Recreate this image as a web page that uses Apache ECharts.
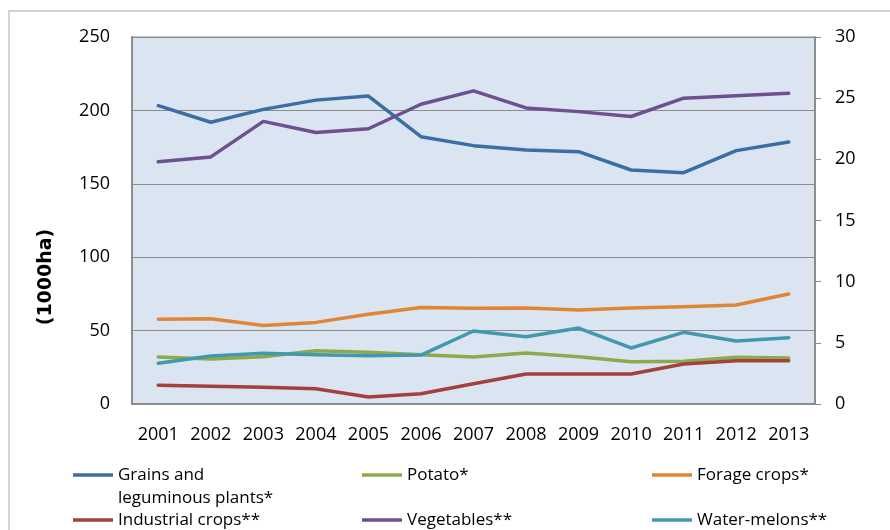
<!DOCTYPE html>
<html>
<head>
<meta charset="utf-8">
<script src="https://cdn.jsdelivr.net/npm/echarts@6/dist/echarts.min.js"></script>
<style>html,body{margin:0;padding:0;background:#fff}#c{width:890px;height:530px}</style>
</head>
<body>
<div id="c"></div>
<script>
const years = ['2001','2002','2003','2004','2005','2006','2007','2008','2009','2010','2011','2012','2013'];
// left axis (1000 ha)
const grains   = [203.2,191.9,200.7,207.0,209.8,182.1,176.0,173.0,171.9,159.4,157.6,172.6,178.5];
const potato   = [32.0,30.7,32.2,36.3,35.2,33.6,32.0,34.7,32.2,28.8,29.1,31.8,31.3];
const forage   = [57.7,58.1,53.4,55.6,61.1,65.8,65.2,65.4,64.0,65.4,66.3,67.4,74.9];
// right axis (1000 ha)
const industrial = [1.53,1.45,1.36,1.25,0.57,0.84,1.66,2.45,2.45,2.45,3.27,3.54,3.54];
const vegetables = [19.8,20.2,23.1,22.2,22.5,24.5,25.6,24.2,23.9,23.5,25.0,25.2,25.4];
const melons     = [3.33,3.92,4.14,4.03,3.95,4.00,5.97,5.50,6.21,4.58,5.86,5.15,5.42];
const leftTicks = {min:0, max:250, interval:50};
const rightTicks = {min:0, max:30, interval:5};

const chart = echarts.init(document.getElementById('c'), null, {renderer:'canvas'});
const font = 'Open Sans';
const axisGray = '#8c8c8c';
function line(name, data, color, yAxisIndex){
  return {name, type:'line', data, yAxisIndex, symbol:'none', smooth:false,
    lineStyle:{color, width:3.5, cap:'round', join:'round'}, itemStyle:{color}, z: 3};
}
const legendBase = {orient:'vertical', icon:'rect', itemWidth:40, itemHeight:3.5, itemGap:25, padding:0,
  textStyle:{fontFamily:font, fontSize:17, color:'#000', lineHeight:20}, selectedMode:false};
chart.setOption({
  animation:false,
  backgroundColor:'#fff',
  grid:{left:132, right:75, top:37, bottom:126, show:true, backgroundColor:'#dbe5f1', borderColor:axisGray, borderWidth:1},
  xAxis:{type:'category', data:years, boundaryGap:true,
    axisLine:{show:true, lineStyle:{color:axisGray, width:2}}, axisTick:{show:false},
    axisLabel:{fontFamily:font, fontSize:18, color:'#000', margin:22, interval:0}},
  yAxis:[
    {type:'value', min:leftTicks.min, max:leftTicks.max, interval:leftTicks.interval, position:'left',
      axisLine:{show:true, lineStyle:{color:axisGray, width:2}}, axisTick:{show:false},
      splitLine:{show:true, lineStyle:{color:axisGray, width:1}},
      axisLabel:{fontFamily:font, fontSize:18, color:'#000', margin:22}},
    {type:'value', min:rightTicks.min, max:rightTicks.max, interval:rightTicks.interval, position:'right',
      axisLine:{show:true, lineStyle:{color:axisGray, width:2}},
      axisTick:{show:true, length:6, inside:false, lineStyle:{color:axisGray, width:1}},
      splitLine:{show:false},
      axisLabel:{fontFamily:font, fontSize:18, color:'#000', margin:20}}
  ],
  legend:[
    Object.assign({}, legendBase, {left:73, top:465, data:['Grains and leguminous plants*','Industrial crops**'],
      formatter: n => n === 'Grains and leguminous plants*' ? 'Grains and' : n}),
    Object.assign({}, legendBase, {left:362, top:465, data:['Potato*','Vegetables**']}),
    Object.assign({}, legendBase, {left:652, top:465, data:['Forage crops*','Water-melons**']})
  ],
  graphic:[
    {type:'rect', shape:{x:9, y:11, width:900, height:540}, style:{fill:null, stroke:'#d4d4d4', lineWidth:2}, silent:true},
    {type:'text', x:46, y:277, rotation:Math.PI/2, style:{text:'(1000ha)', font:'bold 19px "DejaVu Sans"', fill:'#000', textAlign:'center', textVerticalAlign:'middle'}},
    {type:'text', x:118, y:498, style:{text:'leguminous plants*', font:'17px "Open Sans"', fill:'#000', textAlign:'left', textVerticalAlign:'middle'}}
  ],
  series:[
    line('Grains and leguminous plants*', grains, '#3a6ea5', 0),
    line('Potato*', potato, '#8caa4b', 0),
    line('Forage crops*', forage, '#e08536', 0),
    line('Industrial crops**', industrial, '#a4403d', 1),
    line('Vegetables**', vegetables, '#6c5090', 1),
    line('Water-melons**', melons, '#4298ad', 1)
  ]
});
</script>
</body>
</html>
